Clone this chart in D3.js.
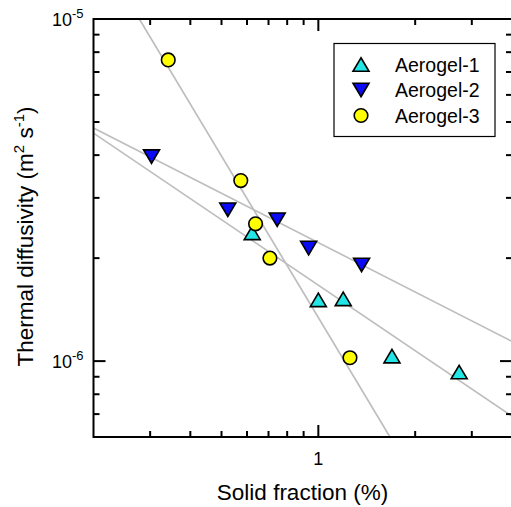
<!DOCTYPE html>
<html>
<head>
<meta charset="utf-8">
<script src="https://cdn.jsdelivr.net/npm/d3@7"></script>
<style>
  body { margin: 0; background: #fff; }
  text { font-family: "Liberation Sans", Arial, sans-serif; fill: #000; }
</style>
</head>
<body>
<div id="vis"></div>
<script>
// data: solid fraction (%) vs thermal diffusivity (m2/s)
const series = ["Aerogel-1", "Aerogel-2", "Aerogel-3"];
const aerogel1 = [[0.623, 2.37e-6], [1.0, 1.51e-6], [1.195, 1.52e-6], [1.694, 1.034e-6], [2.74, 0.929e-6]];
const aerogel2 = [[0.303, 3.96e-6], [0.523, 2.77e-6], [0.745, 2.59e-6], [0.933, 2.14e-6], [1.363, 1.91e-6]];
const aerogel3 = [[0.3415, 7.59e-6], [0.574, 3.37e-6], [0.638, 2.52e-6], [0.707, 2.0e-6], [1.254, 1.023e-6]];
// power-law fit lines, given by their end points
const fit1 = [[0.2, 4.64e-6], [4, 0.69e-6]];
const fit2 = [[0.2, 4.80e-6], [4, 1.142e-6]];
const fit3 = [[0.2776, 1e-5], [1.67, 6e-7]];
const xMinorTicks = [0.3, 0.4, 0.5, 0.6, 0.7, 0.8, 0.9, 2, 3];
const xMajorTicks = [1];
const yMajorTicks = [1e-5, 1e-6];
const yMinorTicks = [7e-7, 8e-7, 9e-7, 2e-6, 3e-6, 4e-6, 5e-6, 6e-6, 7e-6, 8e-6, 9e-6];

const margin = { top: 19, left: 93.5 },
  width = 418.5,
  height = 418;

const svg = d3.select("#vis").append("svg")
  .attr("width", 511)
  .attr("height", 507);

const g = svg.append("g")
  .attr("transform", "translate(" + margin.left + "," + margin.top + ")");

const x = d3.scaleLog().domain([0.2, 4]).range([0, width]);
const y = d3.scaleLog().domain([6e-7, 1e-5]).range([height, 0]);

// fit lines
const line = d3.line().x(d => x(d[0])).y(d => y(d[1]));
g.selectAll(".fit")
  .data([fit1, fit2, fit3])
  .enter().append("path")
    .attr("class", "fit")
    .attr("d", line)
    .style("fill", "none")
    .style("stroke", "#bdbdbd")
    .style("stroke-width", 1.6);

// markers
function tri(w, h, up) {
  return up
    ? "M0," + (-h / 2) + "L" + (w / 2) + "," + (h / 2) + "L" + (-w / 2) + "," + (h / 2) + "Z"
    : "M0," + (h / 2) + "L" + (w / 2) + "," + (-h / 2) + "L" + (-w / 2) + "," + (-h / 2) + "Z";
}
const styles = [
  { fill: "#22e6e6", shape: "up" },
  { fill: "#0a0af5", shape: "down" },
  { fill: "#ffff00", shape: "circle" }
];

function drawMarker(sel, st) {
  if (st.shape === "circle") {
    sel.append("circle").attr("r", 6.8);
  } else {
    sel.append("path").attr("d", tri(16, 13.5, st.shape === "up"));
  }
  sel.selectAll("circle, path")
    .style("fill", st.fill)
    .style("stroke", "#000")
    .style("stroke-width", 1.6);
}

[aerogel1, aerogel2, aerogel3].forEach(function (data, i) {
  g.selectAll(".pt" + i)
    .data(data)
    .enter().append("g")
      .attr("class", "pt" + i)
      .attr("transform", d => "translate(" + x(d[0]) + "," + y(d[1]) + ")")
      .each(function () { drawMarker(d3.select(this), styles[i]); });
});

// axes frame
const axisStroke = 2;
g.append("rect")
  .attr("width", width)
  .attr("height", height)
  .style("fill", "none")
  .style("stroke", "#000")
  .style("stroke-width", axisStroke);

// ticks, all pointing inward on four sides
function xTicks(vals, len) {
  vals.forEach(function (v) {
    g.append("line").attr("x1", x(v)).attr("x2", x(v)).attr("y1", height).attr("y2", height - len)
      .style("stroke", "#000").style("stroke-width", axisStroke);
    g.append("line").attr("x1", x(v)).attr("x2", x(v)).attr("y1", 0).attr("y2", len)
      .style("stroke", "#000").style("stroke-width", axisStroke);
  });
}
function yTicks(vals, len) {
  vals.forEach(function (v) {
    g.append("line").attr("x1", 0).attr("x2", len).attr("y1", y(v)).attr("y2", y(v))
      .style("stroke", "#000").style("stroke-width", axisStroke);
    g.append("line").attr("x1", width).attr("x2", width - len).attr("y1", y(v)).attr("y2", y(v))
      .style("stroke", "#000").style("stroke-width", axisStroke);
  });
}
xTicks(xMinorTicks, 6);
xTicks(xMajorTicks, 12);
yTicks(yMinorTicks, 6);
yTicks(yMajorTicks, 12);

// tick labels
g.selectAll(".xlab")
  .data(xMajorTicks)
  .enter().append("text")
    .attr("x", d => x(d))
    .attr("y", height + 28)
    .attr("text-anchor", "middle")
    .style("font-size", "18px")
    .text(d => d);

yMajorTicks.forEach(function (v) {
  const t = g.append("text")
    .attr("x", -10)
    .attr("y", y(v) + 6.5)
    .attr("text-anchor", "end")
    .style("font-size", "18px");
  t.append("tspan").text("10");
  t.append("tspan").attr("dy", -7.5).style("font-size", "13px").text(Math.round(Math.log10(v)));
});

// axis titles
svg.append("text")
  .attr("x", 302.5)
  .attr("y", 499.5)
  .attr("text-anchor", "middle")
  .style("font-size", "22.5px")
  .text("Solid fraction (%)");

const yt = svg.append("text")
  .attr("transform", "translate(32.5," + 236.5 + ") rotate(-90)")
  .attr("text-anchor", "middle")
  .style("font-size", "22.5px");
yt.append("tspan").text("Thermal diffusivity (m");
yt.append("tspan").attr("dy", -8.5).style("font-size", "15px").text("2");
yt.append("tspan").attr("dy", 8.5).text(" s");
yt.append("tspan").attr("dy", -8.5).style("font-size", "15px").text("-1");
yt.append("tspan").attr("dy", 8.5).text(")");

// legend
const legend = svg.append("g").attr("transform", "translate(334,43.5)");
legend.append("rect")
  .attr("width", 161)
  .attr("height", 93)
  .style("fill", "#fff")
  .style("stroke", "#000")
  .style("stroke-width", 1.2);
series.forEach(function (name, i) {
  const row = legend.append("g").attr("transform", "translate(27," + (21 + i * 25.5) + ")");
  drawMarker(row, styles[i]);
  row.append("text")
    .attr("x", 34)
    .attr("y", 7)
    .style("font-size", "19.5px")
    .text(name);
});
</script>
</body>
</html>
